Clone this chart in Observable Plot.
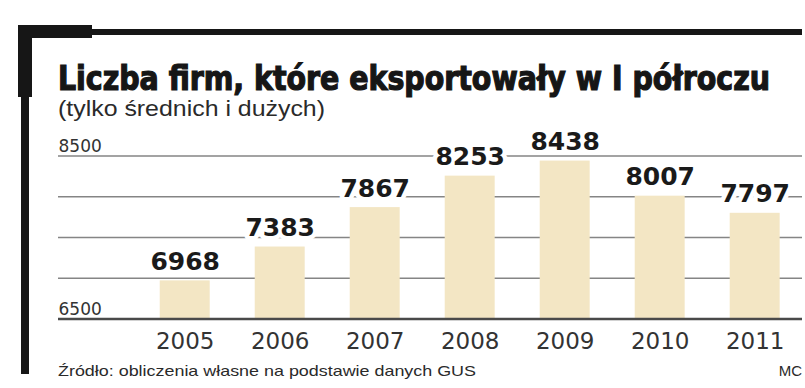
<!DOCTYPE html>
<html>
<head>
<meta charset="utf-8">
<script src="https://cdn.jsdelivr.net/npm/d3@7"></script>
<script src="https://cdn.jsdelivr.net/npm/@observablehq/plot@0.6"></script>
<style>
  html, body { margin: 0; padding: 0; background: #fff; }
  #page { position: relative; width: 805px; height: 388px; overflow: hidden; background: #fff; }
  .blk { position: absolute; background: #161616; }
  .txt { position: absolute; white-space: nowrap; line-height: 1; transform-origin: 0 0; }
  #title { left: 58px; top: 61px; font-family: "DejaVu Sans Condensed", "DejaVu Sans"; font-stretch: condensed; font-weight: bold; font-size: 34px; color: #161616; -webkit-text-stroke: 1.2px #161616; }
  #subtitle { left: 58px; top: 98px; font-family: "Liberation Sans", Arial, sans-serif; font-size: 22.5px; color: #2a2a2a; }
  #caption { left: 58px; top: 363px; font-family: "Liberation Sans", Arial, sans-serif; font-size: 15px; color: #2a2a2a; }
  #mc { right: 3px; top: 363px; font-family: "Liberation Sans", Arial, sans-serif; font-size: 15px; color: #2a2a2a; transform-origin: 100% 0; }
  #chart { position: absolute; left: 0; top: 130px; }
</style>
</head>
<body>
<div id="page">
  <div class="blk" style="left:18px;top:25px;width:74px;height:13px"></div>
  <div class="blk" style="left:18px;top:29px;width:784px;height:6px"></div>
  <div class="blk" style="left:18px;top:25px;width:14px;height:72px"></div>
  <div class="blk" style="left:21px;top:25px;width:8px;height:349px"></div>
  <div class="txt" id="title">Liczba firm, które eksportowały w I półroczu</div>
  <div class="txt" id="subtitle">(tylko średnich i dużych)</div>
  <div id="chart"></div>
  <div class="txt" id="caption">Źródło: obliczenia własne na podstawie danych GUS</div>
  <div class="txt" id="mc">MC</div>
</div>
<script>
const years = ["2005", "2006", "2007", "2008", "2009", "2010", "2011"];
const firms = [6968, 7383, 7867, 8253, 8438, 8007, 7797];
const gridValues = [6500, 7000, 7500, 8000, 8500];
const yTickLabels = [6500, 8500];
const baseValue = 6500;

const data = years.map((year, i) => ({year, value: firms[i]}));

const chart = Plot.plot({
  width: 805,
  height: 225,
  marginLeft: 58,
  marginRight: 3,
  marginTop: 25.5,
  marginBottom: 36.5,
  style: {fontFamily: "DejaVu Sans", background: "transparent", overflow: "visible"},
  x: {type: "band", domain: years, paddingInner: 0.474, paddingOuter: 0.653, align: 0.82, round: false, label: null},
  y: {domain: [6500, 8500], axis: null},
  marks: [
    Plot.ruleY(gridValues, {stroke: "#858585", strokeWidth: 1.5}),
    Plot.barY(data, {x: "year", y1: baseValue, y2: "value", fill: "#f3e6c4"}),
    Plot.ruleY([baseValue], {stroke: "#4a4a4a", strokeWidth: 2.5}),
    Plot.text(data, {
      x: "year", y: "value", text: d => String(d.value),
      lineAnchor: "bottom", dy: -11,
      fontSize: 25, fontWeight: "bold", fontFamily: "DejaVu Sans",
      fill: "#1a1a1a", stroke: "white", strokeWidth: 9
    }),
    Plot.text(yTickLabels, {
      y: d => d, text: d => String(d), frameAnchor: "left",
      textAnchor: "start", lineAnchor: "bottom", dy: -4,
      fontSize: 17, fill: "#333"
    }),
    Plot.axisX({tickSize: 0, tickPadding: 14, fontSize: 23, color: "#333", label: null})
  ]
});
document.getElementById("chart").appendChild(chart);

function fit(id, w) {
  const el = document.getElementById(id);
  const cur = el.getBoundingClientRect().width;
  el.style.transform = `scaleX(${w / cur})`;
}
fit("title", 712);
fit("subtitle", 267);
fit("caption", 418);
</script>
</body>
</html>
